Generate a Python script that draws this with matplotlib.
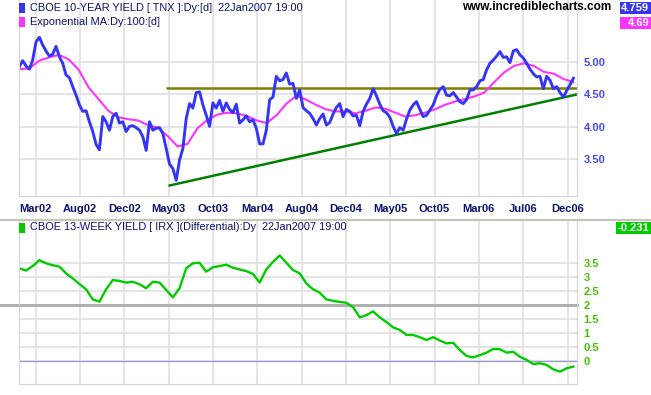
import numpy as np
import matplotlib
matplotlib.use('Agg')
import matplotlib.pyplot as plt
from matplotlib.patches import Rectangle
from matplotlib.lines import Line2D

plt.rcParams['font.family'] = ['Liberation Sans', 'DejaVu Sans']

# ---- data (decimal years on x) ----
date_start, date_end = 2002.043, 2007.043

# CBOE 10-year yield (TNX), roughly every 11 days
tnx = [4.93, 5.02, 4.94, 4.89, 5.03, 5.31, 5.38, 5.26, 5.17, 5.09,
       5.12, 5.24, 5.08, 4.98, 4.80, 4.76, 4.62, 4.49, 4.34, 4.24,
       4.25, 4.08, 3.93, 3.73, 3.65, 4.16, 4.08, 3.95, 4.16, 4.21,
       4.06, 4.08, 3.93, 4.01, 4.02, 3.99, 3.95, 3.85, 3.64, 4.08,
       3.95, 3.98, 3.99, 3.90, 3.67, 3.43, 3.36, 3.18, 3.49, 3.67,
       4.13, 4.36, 4.29, 4.53, 4.54, 4.34, 4.18, 4.01, 4.37, 4.29,
       4.41, 4.24, 4.37, 4.27, 4.22, 4.35, 4.06, 4.11, 4.17, 4.08,
       4.11, 3.98, 3.74, 3.74, 3.95, 4.42, 4.46, 4.78, 4.71, 4.73,
       4.83, 4.66, 4.67, 4.44, 4.57,
       4.30, 4.25, 4.21, 4.13, 4.03, 4.13, 4.20, 4.03, 4.07, 4.20,
       4.30, 4.36, 4.16, 4.27, 4.24, 4.17, 4.18, 4.02, 4.24, 4.35,
       4.44, 4.59, 4.48, 4.35, 4.25, 4.22, 4.15, 4.01, 3.90, 3.99,
       3.95, 4.12, 4.26, 4.34, 4.39, 4.27, 4.16, 4.18, 4.26, 4.34,
       4.48, 4.58, 4.62, 4.49, 4.48, 4.53, 4.46, 4.39, 4.36, 4.42,
       4.57, 4.57, 4.62, 4.71, 4.73, 4.88, 4.98, 5.03, 5.09, 5.16,
       5.07, 5.08, 4.99, 5.17, 5.19, 5.11, 5.06, 4.98, 4.89, 4.82,
       4.77, 4.78, 4.59, 4.78, 4.72, 4.59, 4.62, 4.53, 4.46, 4.56,
       4.65, 4.75]

# Exponential MA 100 of TNX
ema100 = [4.89, 4.90, 5.02, 5.07, 5.11, 5.04, 4.88, 4.61, 4.43, 4.25,
          4.15, 4.12, 4.10, 4.03, 3.99, 3.86, 3.70, 3.74, 3.98, 4.11,
          4.19, 4.22, 4.21, 4.17, 4.10, 4.06, 4.18, 4.36, 4.48, 4.42,
          4.34, 4.27, 4.24, 4.24, 4.21, 4.25, 4.30, 4.28, 4.22, 4.16,
          4.18, 4.22, 4.27, 4.34, 4.39, 4.43, 4.47, 4.53, 4.69, 4.84,
          4.94, 4.98, 4.94, 4.85, 4.82, 4.74, 4.69]

# CBOE 13-week yield differential (IRX)
irx_diff = [3.31, 3.23, 3.39, 3.60, 3.49, 3.42, 3.37, 3.13, 2.95, 2.75,
            2.56, 2.20, 2.12, 2.56, 2.89, 2.86, 2.80, 2.83, 2.74, 2.60,
            2.83, 2.80, 2.54, 2.27, 2.60, 3.31, 3.49, 3.51, 3.19, 3.35,
            3.39, 3.44, 3.33, 3.27, 3.21, 3.11, 2.80, 3.27, 3.54, 3.77,
            3.51, 3.25, 3.13,
            2.77, 2.56, 2.44, 2.20, 2.15, 2.11, 2.08, 1.92, 1.56, 1.64,
            1.77, 1.56, 1.39, 1.20, 1.11, 0.93, 0.93, 0.85, 0.75, 0.85,
            0.73, 0.63, 0.65, 0.39, 0.18, 0.13, 0.21, 0.30, 0.43, 0.42,
            0.30, 0.33, 0.15, 0.04, -0.11, -0.08, -0.14, -0.30, -0.38, -0.26,
            -0.20]

month_labels = ['Mar02', 'Aug02', 'Dec02', 'May03', 'Oct03', 'Mar04', 'Aug04',
                'Dec04', 'May05', 'Oct05', 'Mar06', 'Jul06', 'Dec06']
tick_first, tick_last = 2002.19, 2006.99

resistance_level = 4.60
resistance_from = 2003.37
trend_dates = [2003.40, 2007.073]
trend_values = [3.10, 4.50]

tnx_last, ema_last, diff_last = '4.759', '4.69', '-0.231'

top_ticks = [3.5, 4.0, 4.5, 5.0]
bottom_ticks = [0, 0.5, 1, 1.5, 2, 2.5, 3, 3.5]

# ---- figure ----
W, H = 651, 395
fig = plt.figure(figsize=(W / 100, H / 100), dpi=100)


def fx(px):
    return px / W


def fy(py):
    return 1 - py / H


x_lo, x_hi = 2002.04, 2007.073
grid_col = '#e0e0e0'
navy = '#10106e'

ax1 = fig.add_axes([fx(19), fy(196), fx(576.7) - fx(19), 196 / H])
ax2 = fig.add_axes([fx(19), fy(384), fx(576.7) - fx(19), (384 - 221) / H])

xt = np.linspace(tick_first, tick_last, len(month_labels))

for ax in (ax1, ax2):
    ax.set_xlim(x_lo, x_hi)
    ax.set_xticks(xt)
    ax.grid(True, color=grid_col, lw=1.2)
    ax.set_axisbelow(True)
    ax.yaxis.tick_right()
    ax.tick_params(length=0)
    for s in ('left', 'right', 'bottom'):
        ax.spines[s].set_color('#d4d4d4')
    ax.spines['top'].set_visible(False)

# top panel
d_tnx = np.linspace(date_start, date_end, len(tnx))
d_ema = np.linspace(date_start, date_end, len(ema100))
ax1.plot([resistance_from, x_hi], [resistance_level, resistance_level],
         color='#808000', lw=1.8, solid_capstyle='butt')
ax1.plot(trend_dates, trend_values, color='#008000', lw=1.8)
ax1.plot(d_ema, ema100, color='#ff33ff', lw=1.5)
ax1.plot(d_tnx, tnx, color='#3535f5', lw=2.1)
ax1.set_ylim(2.938, 5.954)
ax1.set_yticks(top_ticks)
ax1.set_yticklabels(['%.2f' % v for v in top_ticks])
ax1.tick_params(axis='y', pad=5, labelsize=8, labelcolor='#4646f2')
ax1.set_xticklabels(month_labels)
ax1.tick_params(axis='x', pad=6, labelsize=8, labelcolor=navy)
for lab in ax1.get_xticklabels() + ax1.get_yticklabels():
    lab.set_fontweight('bold')

# bottom panel
d_irx = np.linspace(date_start, date_end, len(irx_diff))
ax2.axhline(2, xmin=-19 / 557.7, xmax=1, color='#acacac', lw=2, clip_on=False)
ax2.axhline(0, color='#9a9ad0', lw=0.9)
ax2.plot(d_irx, irx_diff, color='#00cc00', lw=1.7)
ax2.set_ylim(-0.821, 5.0)
ax2.set_yticks(bottom_ticks)
ax2.set_yticklabels(['%g' % v for v in bottom_ticks])
ax2.tick_params(axis='y', pad=5, labelsize=8, labelcolor='#44c400')
ax2.set_xticklabels([])
for lab in ax2.get_yticklabels():
    lab.set_fontweight('bold')

# separator between panels
fig.add_artist(Line2D([0, 1], [fy(220), fy(220)], transform=fig.transFigure,
                      color='#c6c6b8', lw=1.6))

# legends
def legend_row(py, color, text):
    fig.add_artist(Rectangle((fx(19), fy(py + 5)), 6 / W, 10 / H,
                             transform=fig.transFigure, fc=color, ec='none'))
    fig.text(fx(30), fy(py), text, fontsize=7.9, color=navy, va='center', ha='left')


legend_row(8, '#3535f5', 'CBOE 10-YEAR YIELD [ TNX ]:Dy:[d]  22Jan2007 19:00')
legend_row(22, '#ff33ff', 'Exponential MA:Dy:100:[d]')
legend_row(227.5, '#00cc00', 'CBOE 13-WEEK YIELD [ IRX ](Differential):Dy  22Jan2007 19:00')

fig.text(fx(611), fy(7.5), 'www.incrediblecharts.com', fontsize=8.5,
         fontweight='bold', color='black', ha='right', va='center')


def value_box(px0, py0, py1, color, text):
    fig.add_artist(Rectangle((fx(px0), fy(py1)), (W - px0) / W, (py1 - py0) / H,
                             transform=fig.transFigure, fc=color, ec='none'))
    fig.text(fx(649), fy((py0 + py1) / 2), text, fontsize=8, fontweight='bold',
             color='white', ha='right', va='center')


value_box(620, 2, 13.5, '#3535f5', tnx_last)
value_box(620, 17, 28.5, '#ff33ff', ema_last)
value_box(616, 222, 233.5, '#00cc00', diff_last)

fig.savefig('out.png', dpi=100)
